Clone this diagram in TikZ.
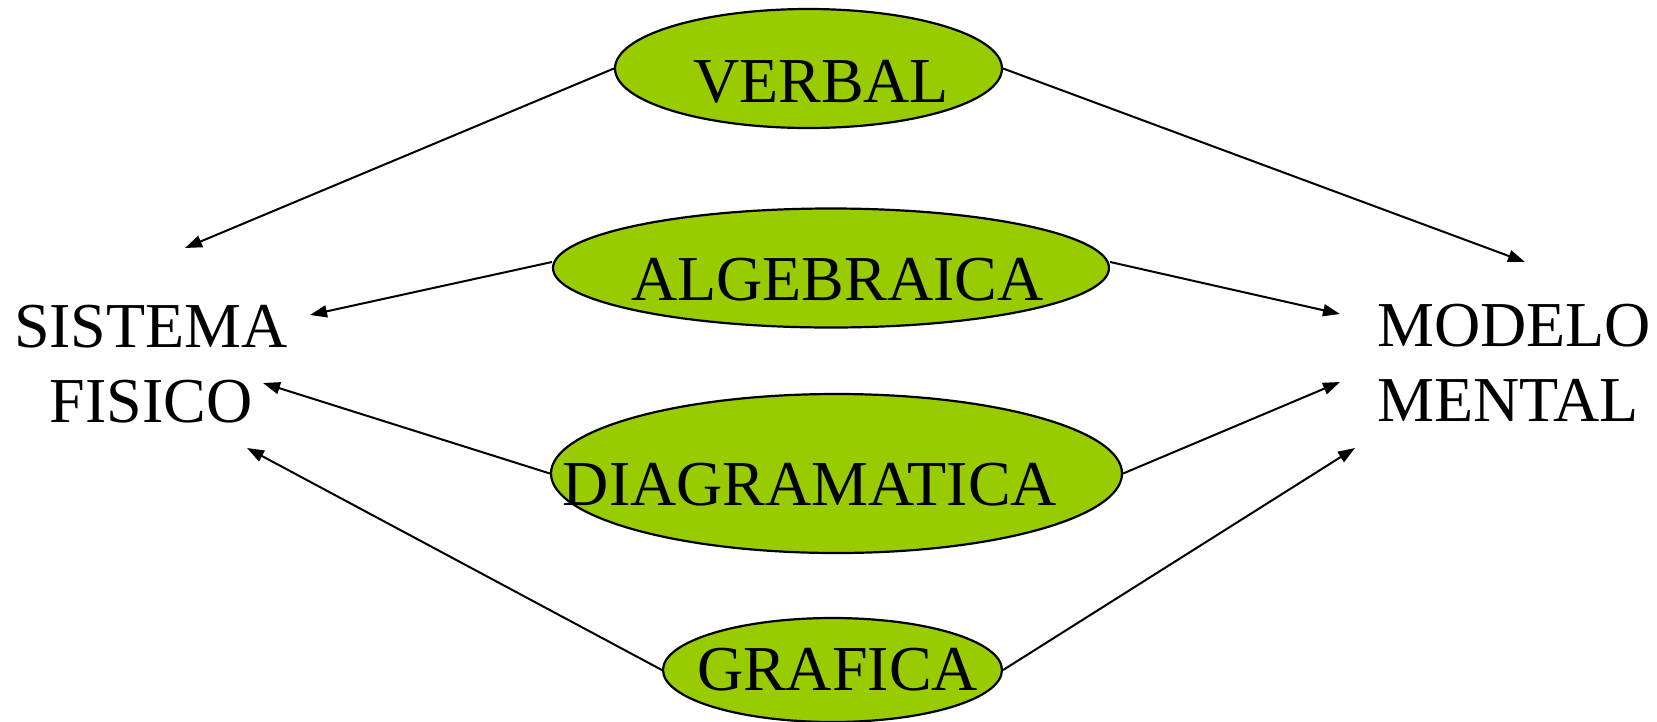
\documentclass[tikz,border=0pt]{standalone}
\usepackage{fontspec}
\setmainfont{Liberation Serif}
\usetikzlibrary{arrows.meta,shapes.geometric}
\definecolor{repgreen}{RGB}{153,204,0}
\tikzset{
  reppill/.style={draw, ellipse, fill=repgreen, line width=2.2pt, inner sep=0pt},
  replab/.style={inner sep=0pt, font=\fontsize{64}{75}\selectfont},
  repar/.style={-{Triangle[length=17pt,width=12pt]}, line width=2pt},
}

\begin{document}
\begin{tikzpicture}[x=1pt,y=-1pt]
  \useasboundingbox (0,0) rectangle (1657,721);

  \node[reppill, minimum width=387pt, minimum height=119pt] (verbal) at (808.5,68.5) {};
  \node[reppill, minimum width=556pt, minimum height=119pt] (alg) at (831,268) {};
  \node[reppill, minimum width=571pt, minimum height=159pt] (diag) at (836.5,473.5) {};
  \node[reppill, minimum width=339pt, minimum height=104pt] (graf) at (832.5,670) {};

  \node[replab, anchor=base] (verbal-t) at (821,102) {VERBAL};
  \node[replab, anchor=base] (alg-t) at (837.5,300) {ALGEBRAICA};
  \node[replab, anchor=base] (diag-t) at (810,505) {DIAGRAMATICA};
  \node[replab, anchor=base] (graf-t) at (837.5,690) {GRAFICA};

  \node[replab, align=center] (sis) at (151,364) {SISTEMA\\FISICO};
  \node[replab, align=left, anchor=west] (mod) at (1377,363) {MODELO\\MENTAL};

  \coordinate (sis-v) at (185,248);
  \coordinate (sis-a) at (310,315);
  \coordinate (sis-d) at (263,383);
  \coordinate (sis-g) at (247,448);
  \coordinate (mod-v) at (1525,262);
  \coordinate (mod-a) at (1340,314);
  \coordinate (mod-d) at (1340,382);
  \coordinate (mod-g) at (1355,448);

  \draw[repar] (verbal.west) -- (sis-v);
  \draw[repar] (verbal.east) -- (mod-v);
  \draw[repar] ([yshift=6pt]alg.west) -- (sis-a);
  \draw[repar] ([yshift=6pt]alg.east) -- (mod-a);
  \draw[repar] (diag.west) -- (sis-d);
  \draw[repar] (diag.east) -- (mod-d);
  \draw[repar] (graf.west) -- (sis-g);
  \draw[repar] (graf.east) -- (mod-g);
\end{tikzpicture}
\end{document}
